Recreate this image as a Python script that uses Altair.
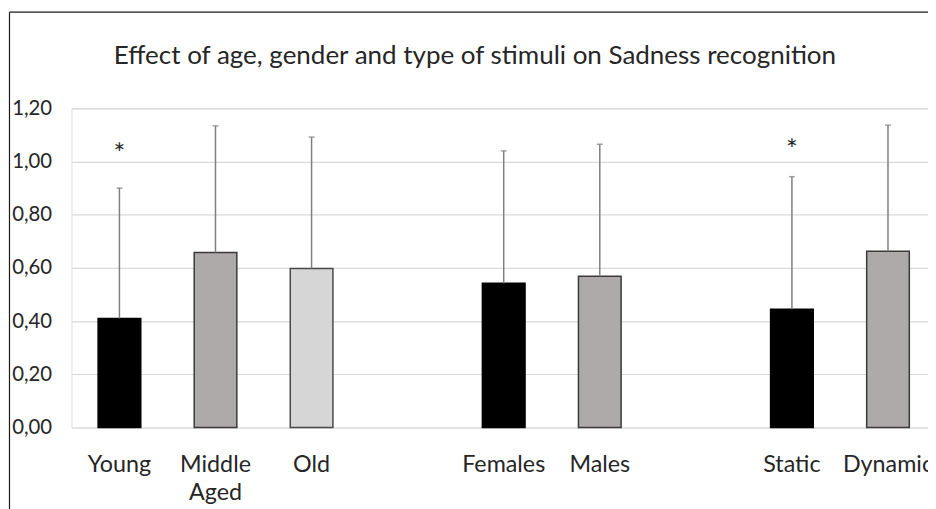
import altair as alt
import pandas as pd

# ---- data ----
categories = ["Young", "Middle Aged", "Old", "Females", "Males", "Static", "Dynamic"]
means = [0.41, 0.658, 0.598, 0.542, 0.569, 0.445, 0.663]
sds = [0.49, 0.476, 0.494, 0.498, 0.496, 0.498, 0.474]

star_categories = ["Young", "Static"]
star_values = [1.05, 1.067]

# slot order on the axis (blank slots separate the three groups)
slots = ["Young", "Middle Aged", "Old", " ", "Females", "Males", "  ", "Static", "Dynamic"]

fills = ["#000000", "#aeaaaa", "#d6d6d6", "#000000", "#aeaaaa", "#000000", "#aeaaaa"]
strokes = ["#000000", "#3a3a3a", "#4a4a4a", "#000000", "#3a3a3a", "#000000", "#3a3a3a"]

df = pd.DataFrame({"cat": categories, "mean": means, "sd": sds})
df["top"] = df["mean"] + df["sd"]
stars = pd.DataFrame({"cat": star_categories, "y": star_values})
frame_df = pd.DataFrame({"k": [0]})

FONT = "Lato"
TEXT = "#262626"

xscale = alt.Scale(domain=slots, paddingInner=0.556, paddingOuter=0.236, align=0.588)
x = alt.X("cat:N", scale=xscale, sort=slots,
          axis=alt.Axis(title=None, domain=False, ticks=False, tickSize=0, grid=False,
                        labelAngle=0, labelFontSize=23.5, labelPadding=25,
                        labelLineHeight=29, labelExpr="split(datum.label, ' ')",
                        labelFont=FONT, labelColor=TEXT))
yscale = alt.Scale(domain=[0, 1.2], nice=False, zero=True)
yaxis = alt.Axis(title=None, domain=False, ticks=False, tickSize=0,
                 values=[0, 0.2, 0.4, 0.6, 0.8, 1.0, 1.2],
                 labelExpr="replace(format(datum.value, '.2f'), '.', ',')",
                 labelFontSize=20.5, labelPadding=20, labelFont=FONT, labelColor=TEXT,
                 grid=True, gridColor="#d9d9d9", gridWidth=1.2)

bars = alt.Chart(df).mark_bar(strokeWidth=1.5).encode(
    x=x,
    y=alt.Y("mean:Q", scale=yscale, axis=yaxis),
    fill=alt.Fill("cat:N", scale=alt.Scale(domain=categories, range=fills), legend=None),
    stroke=alt.Stroke("cat:N", scale=alt.Scale(domain=categories, range=strokes), legend=None),
)

err = alt.Chart(df).mark_rule(color="#7f7f7f", strokeWidth=1.5).encode(
    x=alt.X("cat:N", scale=xscale, sort=slots),
    y=alt.Y("mean:Q", scale=yscale),
    y2="top:Q",
)

caps = alt.Chart(df).mark_tick(color="#7f7f7f", size=6, thickness=1.5).encode(
    x=alt.X("cat:N", scale=xscale, sort=slots),
    y=alt.Y("top:Q", scale=yscale),
)

star_text = alt.Chart(stars).mark_text(text="*", font=FONT, fontSize=28, color=TEXT,
                                       baseline="middle", dy=7).encode(
    x=alt.X("cat:N", scale=xscale, sort=slots),
    y=alt.Y("y:Q", scale=yscale),
)

frame_left = alt.Chart(frame_df).mark_rule(color="#1a1a1a", strokeWidth=1.2).encode(
    x=alt.value(-62.5), y=alt.value(-97), y2=alt.value(420)
)
frame_top = alt.Chart(frame_df).mark_rule(color="#1a1a1a", strokeWidth=1.2).encode(
    x=alt.value(-62.5), x2=alt.value(880), y=alt.value(-97)
)

chart = alt.layer(bars, err, caps, star_text, frame_left, frame_top).properties(
    width=864,
    height=322,
    autosize=alt.AutoSizeParams(type="none"),
    padding={"left": 64, "top": 99, "right": 0, "bottom": 80},
    title=alt.Title("Effect of age, gender and type of stimuli on Sadness recognition",
                    font=FONT, fontSize=26.2, fontWeight="normal", color=TEXT,
                    anchor="middle", frame="group", baseline="alphabetic",
                    offset=-79, dx=-25),
).configure_view(stroke=None).configure(background="white")

chart.save("out.html", embed_options={"renderer": "svg", "actions": False})
